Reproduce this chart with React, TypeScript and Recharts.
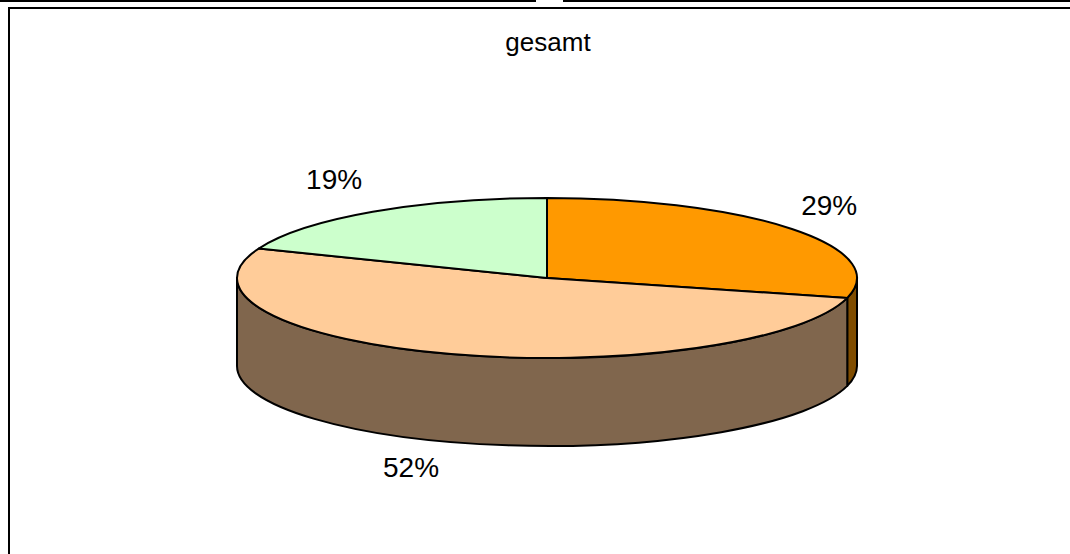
import { PieChart, Pie, Cell } from "recharts"

const sliceNames = ["Teil A", "Teil B", "Teil C"]
const sliceValues = [29, 52, 19]
const topColors = ["#FF9900", "#FFCC99", "#CCFFCC"]
const sideColors = ["#804D00", "#80664D", "#668066"]

const data = sliceNames.map((name, i) => ({ name, value: sliceValues[i] }))

const W = 1070
const H = 554
const CX = 547
const CY = 278
const RX = 310
const RY = 80
const DEPTH = 88
const FONT = '"Liberation Sans", Arial, sans-serif'

const RAD = Math.PI / 180

function pt(cx: number, cy: number, rx: number, ry: number, a: number, dy = 0) {
  return [cx + rx * Math.cos(a * RAD), cy - ry * Math.sin(a * RAD) + dy]
}

// front half of the pie (angles -180..0) gets a visible side wall
function frontRange(a1: number, a2: number): [number, number] | null {
  const hi = Math.max(a1, a2)
  const lo = Math.min(a1, a2)
  for (const k of [-720, -360, 0, 360]) {
    const h = Math.min(hi + k, 0)
    const l = Math.max(lo + k, -180)
    if (h > l) return [h, l]
  }
  return null
}

function Slice3D(props: any) {
  const { cx, cy, outerRadius, startAngle, endAngle, index } = props
  const rx = outerRadius
  const ry = (outerRadius * RY) / RX
  const a1 = startAngle
  const a2 = endAngle
  const [x1, y1] = pt(cx, cy, rx, ry, a1)
  const [x2, y2] = pt(cx, cy, rx, ry, a2)
  const large = Math.abs(a1 - a2) > 180 ? 1 : 0
  const top = `M${cx},${cy} L${x1},${y1} A${rx},${ry} 0 ${large} 1 ${x2},${y2} Z`

  const fr = frontRange(a1, a2)
  let side: string | null = null
  if (fr) {
    const [s, e] = fr
    const [sx, sy] = pt(cx, cy, rx, ry, s)
    const [ex, ey] = pt(cx, cy, rx, ry, e)
    const [ex2, ey2] = pt(cx, cy, rx, ry, e, DEPTH)
    const [sx2, sy2] = pt(cx, cy, rx, ry, s, DEPTH)
    side = `M${sx},${sy} A${rx},${ry} 0 0 1 ${ex},${ey} L${ex2},${ey2} A${rx},${ry} 0 0 0 ${sx2},${sy2} Z`
  }

  return (
    <g>
      {side && (
        <path d={side} fill={sideColors[index]} stroke="#000" strokeWidth={2} strokeLinejoin="round" />
      )}
      <path d={top} fill={topColors[index]} stroke="#000" strokeWidth={2} strokeLinejoin="round" />
    </g>
  )
}

function renderLabel(props: any) {
  const { cx, cy, midAngle, outerRadius, percent } = props
  const ry = (outerRadius * RY) / RX
  const c = Math.cos(midAngle * RAD)
  const s = Math.sin(midAngle * RAD)
  const x = cx + (outerRadius - 6) * c + 42 * Math.sign(c)
  const y = cy - (ry + 39) * s + (s < 0 ? DEPTH - 12 : 0)
  return (
    <text
      x={x}
      y={y}
      textAnchor="middle"
      dominantBaseline="central"
      fontSize={28}
      fontFamily={FONT}
      fill="#000"
    >
      {`${Math.round(percent * 100)}%`}
    </text>
  )
}

export default function App() {
  return (
    <div style={{ position: "absolute", left: 0, top: 0, width: W, height: H, background: "#fff", overflow: "hidden" }}>
      {/* frame lines */}
      <div style={{ position: "absolute", left: 0, top: 0, width: 536, height: 2, background: "#000" }} />
      <div style={{ position: "absolute", left: 563, top: 0, width: W - 563, height: 2, background: "#000" }} />
      <div style={{ position: "absolute", left: 8, top: 7, width: W - 8, height: 2, background: "#000" }} />
      <div style={{ position: "absolute", left: 8, top: 7, width: 2, height: H - 7, background: "#000" }} />

      <div style={{ position: "absolute", left: 0, top: 0 }}>
        <PieChart width={W} height={H} margin={{ top: 0, right: 0, bottom: 0, left: 0 }}>
          <text x={548} y={51} textAnchor="middle" fontSize={26} fontFamily={FONT} fill="#000">
            gesamt
          </text>
          <Pie
            data={data}
            dataKey="value"
            nameKey="name"
            cx={CX}
            cy={CY}
            outerRadius={RX}
            startAngle={90}
            endAngle={-270}
            stroke="#000"
            shape={Slice3D}
            activeShape={Slice3D}
            inactiveShape={Slice3D}
            label={renderLabel}
            labelLine={false}
            isAnimationActive={false}
          >
            {data.map((d, i) => (
              <Cell key={d.name} fill={topColors[i]} />
            ))}
          </Pie>
        </PieChart>
      </div>
    </div>
  )
}
